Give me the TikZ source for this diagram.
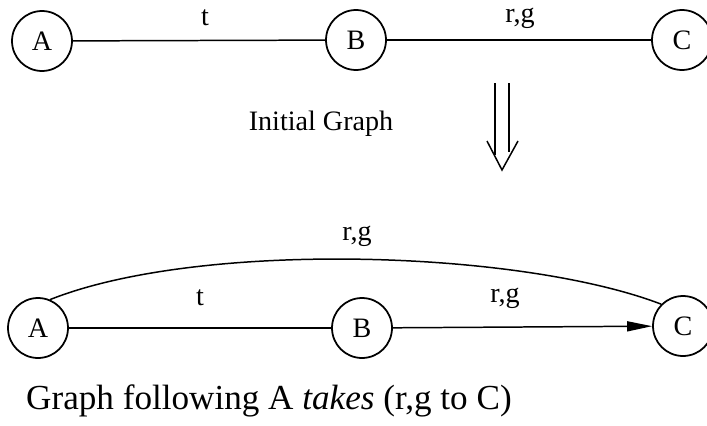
\documentclass[tikz,border=0pt]{standalone}
\usepackage{fontspec}
\setmainfont{Liberation Serif}
\usetikzlibrary{positioning, arrows.meta, calc}

\begin{document}
\begin{tikzpicture}[
	x=0.02cm, y=-0.02cm,
	font=\fontsize{16}{19}\selectfont,
	% --- Styles ---
	state/.style={
		circle, draw, line width=1pt, minimum size=1.2cm, inner sep=0pt
	},
	edge/.style={
		draw, line width=0.85pt
	},
	takeedge/.style={
		draw, line width=0.85pt, -{Triangle[length=0.5cm, width=0.2cm]}
	},
	caption/.style={
		font=\fontsize{20}{24}\selectfont
	}
	]
	\useasboundingbox (0,0) rectangle (707,426);
	
	% --- 1. Initial graph ---
	\node [state] (a1) at (42,41) {A};
	\node [state] (b1) at (356,40) {B};
	\node [state] (c1) at (682,40) {C};
	
	\draw [edge] (a1) -- (b1);
	\draw [edge] (b1) -- (c1);
	\node at (205,18) {t};
	\node at (520,18) {r,g};
	
	\node (initlabel) at (321,124) {Initial Graph};
	
	% --- 2. Double arrow down ---
	\coordinate (dtop) at (502,83);
	\coordinate (dtip) at (502,170);
	\draw [line width=0.85pt] ($(dtop)+(-7,0)$) -- ($(dtip)+(-7,-15)$);
	\draw [line width=0.85pt] ($(dtop)+(7,0)$) -- ($(dtip)+(7,-18)$);
	\draw [line width=0.85pt] ($(dtip)+(-15,-29)$) -- (dtip) -- ($(dtip)+(16,-29)$);
	
	% --- 3. Graph after the take ---
	\node [state] (a2) at (38,328) {A};
	\node [state] (b2) at (362,328) {B};
	\node [state] (c2) at (683,326) {C};
	
	\draw [edge] (a2) -- (b2);
	\draw [takeedge] (b2) -- (c2);
	\draw [edge] (a2.67) .. controls (200,240) and (520,250) .. (c2.135);
	\node at (200,298) {t};
	\node at (505,298) {r,g};
	\node at (357,236) {r,g};
	
	\node [caption, anchor=west] (takelabel) at (20,401) {Graph following A \textit{takes} (r,g to C)};
\end{tikzpicture}
\end{document}
